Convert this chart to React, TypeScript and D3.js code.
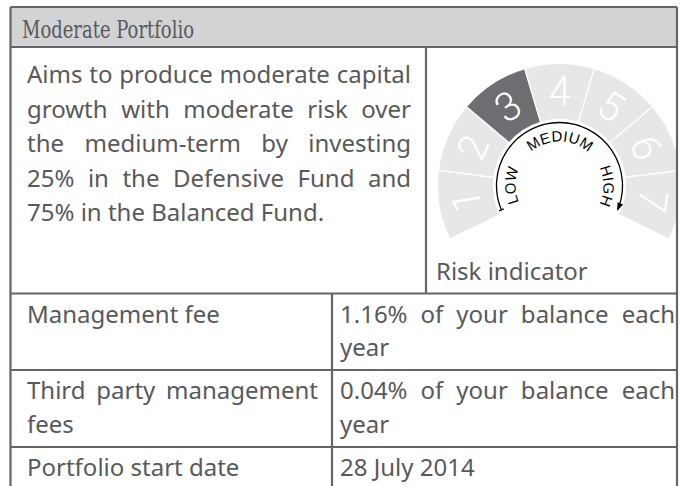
import * as d3 from 'd3'

const TITLE = 'Moderate Portfolio'
const DESCRIPTION = [
  'Aims to produce moderate capital',
  'growth with moderate risk over',
  'the medium-term by investing',
  '25% in the Defensive Fund and',
  '75% in the Balanced Fund.',
]
const RISK_LEVELS = [1, 2, 3, 4, 5, 6, 7]
const CURRENT_RISK = 3
const SCALE_LABELS = ['LOW', 'MEDIUM', 'HIGH']
const SCALE_LABEL_POS = [-90, 0, 90]
const RISK_CAPTION = 'Risk indicator'
const FEE_ROW_LABELS = [
  ['Management fee'],
  ['Third party management', 'fees'],
  ['Portfolio start date'],
]
const FEE_ROW_VALUES = [
  ['1.16% of your balance each', 'year'],
  ['0.04% of your balance each', 'year'],
  ['28 July 2014'],
]

const W = 688
const H = 486
const TEXT = '#58595b'
const LINE = '#646567'
const BODY_SIZE = 24
const BODY_FONT = '"Noto Sans", sans-serif'

const ctx =
  typeof document !== 'undefined'
    ? document.createElement('canvas').getContext('2d')
    : null

function measure(text: string, size: number, family: string) {
  if (!ctx) return text.length * size * 0.5
  ctx.font = `${size}px ${family}`
  return ctx.measureText(text).width
}

// justified paragraph: every line but the last is stretched by word spacing
function Paragraph({
  lines,
  x,
  y,
  width,
  lineHeight,
}: {
  lines: string[]
  x: number
  y: number
  width: number
  lineHeight: number
}) {
  return (
    <g>
      {lines.map((line, i) => {
        const last = i === lines.length - 1
        const gaps = line.split(' ').length - 1
        const natural = measure(line, BODY_SIZE, BODY_FONT)
        const ws = !last && gaps > 0 ? (width - natural) / gaps : 0
        return (
          <text
            key={i}
            x={x}
            y={y + i * lineHeight}
            fontSize={BODY_SIZE}
            fontFamily={BODY_FONT}
            fill={TEXT}
            style={{ wordSpacing: `${ws}px` }}
          >
            {line}
          </text>
        )
      })}
    </g>
  )
}

function Gauge() {
  const cx = 559.5
  const cy = 185.5
  const rIn = 66
  const rOut = 122
  const rLine = 63
  const rText = 44
  const deg = Math.PI / 180

  const angle = d3
    .scaleLinear()
    .domain([0, RISK_LEVELS.length])
    .range([-116 * deg, 116 * deg])

  const seg = d3.arc<{ s: number; e: number }>()
    .innerRadius(rIn)
    .outerRadius(rOut)
    .startAngle(d => d.s)
    .endAngle(d => d.e)

  // black arrow arc
  const a0 = -112.7 * deg
  const a1 = 112.7 * deg
  const p = d3.path()
  p.arc(0, 0, rLine, a0 - Math.PI / 2, a1 - Math.PI / 2)

  // circle path for labels, starts at the bottom and runs clockwise
  const tp = d3.path()
  tp.arc(0, 0, rText, Math.PI / 2, Math.PI / 2 + 2 * Math.PI * 0.999)

  return (
    <g>
      <defs>
        <clipPath id="gauge-clip">
          <rect x={427} y={48} width={249} height={245} />
        </clipPath>
        <marker
          id="arrow"
          markerUnits="userSpaceOnUse"
          markerWidth={10}
          markerHeight={10}
          viewBox="-8 -4 10 8"
          refX={0}
          refY={0}
          orient="auto"
        >
          <path d="M1,0 L-7,-3 L-7,3 Z" fill="#000" />
        </marker>
        <path id="label-path" d={tp.toString()} />
      </defs>
      <g clipPath="url(#gauge-clip)">
        <g transform={`translate(${cx},${cy})`}>
          {RISK_LEVELS.map((lvl, i) => {
            const mid = angle(i + 0.5) / deg
            return (
              <g key={lvl}>
                <path
                  d={seg({ s: angle(i), e: angle(i + 1) }) || ''}
                  fill={lvl === CURRENT_RISK ? '#6d6e71' : '#e6e7e8'}
                  stroke="#fff"
                  strokeWidth={1.2}
                />
                <text
                  transform={`rotate(${mid}) translate(0,${-(rIn + rOut) / 2})`}
                  textAnchor="middle"
                  dominantBaseline="central"
                  fontSize={40}
                  fontWeight={300}
                  fontFamily="Roboto, 'Open Sans', sans-serif"
                  fill="#fff"
                >
                  {lvl}
                </text>
              </g>
            )
          })}
          <path
            d={p.toString()}
            fill="none"
            stroke="#000"
            strokeWidth={1.3}
            markerEnd="url(#arrow)"
          />
          <line
            x1={(rLine - 2.5) * Math.sin(a0)}
            y1={-(rLine - 2.5) * Math.cos(a0)}
            x2={(rLine + 2.5) * Math.sin(a0)}
            y2={-(rLine + 2.5) * Math.cos(a0)}
            stroke="#000"
            strokeWidth={1.3}
          />
          {SCALE_LABELS.map((lab, i) => (
            <text
              key={lab}
              fontSize={15}
              fontFamily="'Liberation Sans', Arial, sans-serif"
              letterSpacing={0.3}
              fill="#000"
            >
              <textPath
                href="#label-path"
                startOffset={(SCALE_LABEL_POS[i] * deg + Math.PI) * rText}
                textAnchor="middle"
              >
                {lab}
              </textPath>
            </text>
          ))}
        </g>
      </g>
    </g>
  )
}

export default function App() {
  const left = 10.5
  const right = 677
  const top = 7
  const headBottom = 47
  const midCol = 426
  const rowTop = 293.5
  const feeCol = 332
  const rowLines = [rowTop, 370, 447]
  const lh = 33.5

  return (
    <svg
      width={W}
      height={H}
      style={{ position: 'absolute', left: 0, top: 0, background: '#fff' }}
    >
      {/* header */}
      <rect x={left} y={top} width={right - left} height={headBottom - top} fill="#d1d3d4" />
      <text
        x={22}
        y={37.5}
        fontSize={24}
        fontFamily="'DejaVu Serif', serif"
        fill={TEXT}
        textLength={172}
        lengthAdjust="spacingAndGlyphs"
      >
        {TITLE}
      </text>

      {/* description and risk gauge */}
      <Paragraph lines={DESCRIPTION} x={27} y={83} width={384} lineHeight={34.6} />
      <Gauge />
      <text x={436} y={280} fontSize={BODY_SIZE} fontFamily={BODY_FONT} fill={TEXT}>
        {RISK_CAPTION}
      </text>

      {/* fee table */}
      {FEE_ROW_LABELS.map((lines, i) => (
        <g key={i}>
          <Paragraph lines={lines} x={27} y={rowLines[i] + 29} width={291} lineHeight={lh} />
          <Paragraph
            lines={FEE_ROW_VALUES[i]}
            x={340}
            y={rowLines[i] + 29}
            width={335}
            lineHeight={lh}
          />
        </g>
      ))}

      {/* grid lines */}
      <g stroke={LINE} strokeWidth={2.2} fill="none">
        <line x1={left} y1={top} x2={right} y2={top} />
        <line x1={left} y1={headBottom} x2={right} y2={headBottom} />
        <line x1={left} y1={top} x2={left} y2={H} />
        <line x1={right} y1={top} x2={right} y2={H} />
        <line x1={midCol} y1={headBottom} x2={midCol} y2={rowTop} />
        <line x1={feeCol} y1={rowTop} x2={feeCol} y2={H} />
        {rowLines.map(y => (
          <line key={y} x1={left} y1={y} x2={right} y2={y} />
        ))}
      </g>
    </svg>
  )
}
